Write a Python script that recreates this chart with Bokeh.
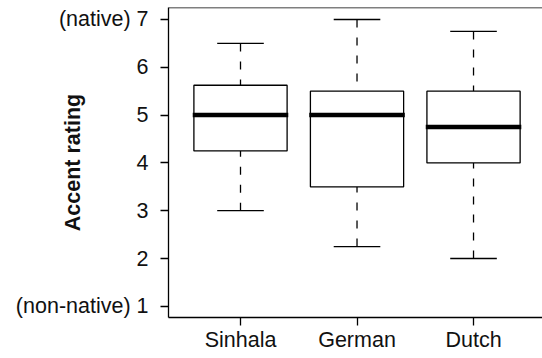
import numpy as np
from bokeh.plotting import figure
from bokeh.models import Range1d, FixedTicker, Span, ColumnDataSource
from bokeh.embed import file_html
from bokeh.resources import INLINE

# ---- data ----
categories = ["Sinhala", "German", "Dutch"]
whisker_low = [3.0, 2.25, 2.0]
q1 = [4.25, 3.5, 4.0]
median = [5.0, 5.0, 4.75]
q3 = [5.625, 5.5, 5.5]
whisker_high = [6.5, 7.0, 6.75]
y_ticks = [1, 2, 3, 4, 5, 6, 7]
y_tick_labels = ["(non-native) 1", "2", "3", "4", "5", "6", "(native) 7"]
y_label = "Accent rating"

FONT = "Liberation Sans"
FS = "21.5px"

xpos = np.arange(1, len(categories) + 1)

X0, X1 = 0.382, 3.592
Y0, Y1 = 0.766, 7.251

p = figure(width=542, height=358, output_backend="svg", toolbar_location=None,
           x_range=Range1d(X0, X1), y_range=Range1d(Y0, Y1),
           min_border_left=168, min_border_right=0, min_border_top=7,
           min_border_bottom=41)
p.outline_line_color = None
p.grid.visible = False
p.background_fill_color = "white"
p.border_fill_color = "white"

src = ColumnDataSource(dict(x=xpos, lo=whisker_low, q1=q1, med=median,
                            q3=q3, hi=whisker_high,
                            left=xpos - 0.4, right=xpos + 0.4,
                            cl=xpos - 0.2, cr=xpos + 0.2,
                            ml=xpos - 0.41, mr=xpos + 0.41))

# whiskers (dashed), drawn from whisker end toward box
p.segment(x0="x", y0="hi", x1="x", y1="q3", source=src, line_color="black",
          line_width=1.3, line_dash="8 10")
p.segment(x0="x", y0="lo", x1="x", y1="q1", source=src, line_color="black",
          line_width=1.3, line_dash="8 10")
# caps
p.segment(x0="cl", y0="hi", x1="cr", y1="hi", source=src, line_color="black", line_width=1.3)
p.segment(x0="cl", y0="lo", x1="cr", y1="lo", source=src, line_color="black", line_width=1.3)
# boxes
p.quad(left="left", right="right", bottom="q1", top="q3", source=src,
       fill_color="white", line_color="black", line_width=1.3)
# medians
p.segment(x0="ml", y0="med", x1="mr", y1="med", source=src, line_color="black",
          line_width=4.5, line_cap="butt")

# top frame line
p.add_layout(Span(location=Y1, dimension="width", line_color="black", line_width=1.3))

# axes
for ax in (p.xaxis[0], p.yaxis[0]):
    ax.axis_line_color = "black"
    ax.axis_line_width = 1.3
    ax.major_tick_line_color = "black"
    ax.major_tick_line_width = 1.3
    ax.major_tick_out = 8
    ax.major_tick_in = 0
    ax.minor_tick_line_color = None
    ax.major_label_text_font = FONT
    ax.major_label_text_font_size = FS
    ax.major_label_text_color = "#111111"

p.xaxis.ticker = FixedTicker(ticks=list(xpos))
p.xaxis.major_label_overrides = {int(i): c for i, c in zip(xpos, categories)}
p.xaxis.major_label_standoff = 2

p.yaxis.ticker = FixedTicker(ticks=y_ticks)
p.yaxis.major_label_overrides = {t: l for t, l in zip(y_ticks, y_tick_labels)}
p.yaxis.major_label_standoff = 12
# R-style title: sits over the column of long tick labels
p.yaxis.axis_label = y_label
p.yaxis.axis_label_text_font = FONT
p.yaxis.axis_label_text_font_size = FS
p.yaxis.axis_label_text_font_style = "bold"
p.yaxis.axis_label_text_color = "#111111"
p.yaxis.axis_label_standoff = -72

open("out.html", "w").write(file_html(p, INLINE))
